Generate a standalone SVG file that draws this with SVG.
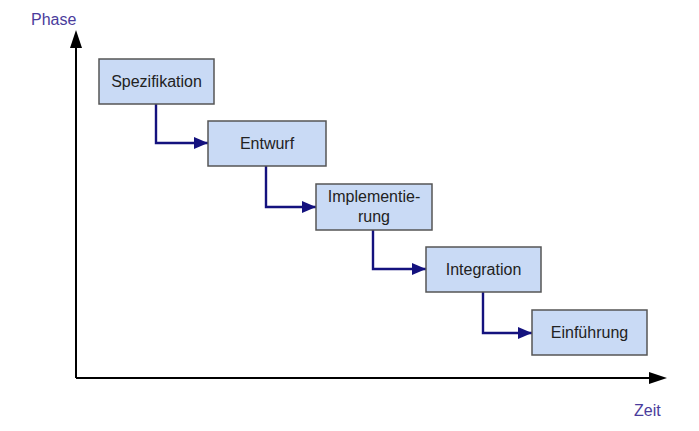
<svg xmlns="http://www.w3.org/2000/svg" width="699" height="431" viewBox="0 0 699 431">
<style>
.box{fill:#c9daf5;stroke:#555;stroke-width:1.5}
.t{font-family:"Liberation Sans",Arial,sans-serif;font-size:16px;fill:#222;text-anchor:middle}
.ax{font-family:"Liberation Sans",Arial,sans-serif;font-size:16px;fill:#4a3c9c}
.c{fill:none;stroke:#14127e;stroke-width:2.4}
</style>
<defs>
<marker id="ah" markerWidth="14" markerHeight="12" refX="14" refY="6" orient="auto" markerUnits="userSpaceOnUse">
<path d="M0,0 L14,6 L0,12 Z" fill="#14127e"/>
</marker>
</defs>
<rect width="699" height="431" fill="#fff"/>
<g id="axes">
<line x1="76" y1="378" x2="76" y2="44" stroke="#000" stroke-width="2"/>
<path d="M76,30 L70,48 L82,48 Z" fill="#000"/>
<line x1="76" y1="378" x2="652" y2="378" stroke="#000" stroke-width="2"/>
<path d="M667,378 L649,372 L649,384 Z" fill="#000"/>
<text class="ax" x="31" y="25">Phase</text>
<text class="ax" x="634" y="416">Zeit</text>
</g>
<g id="connectors">
<path class="c" d="M156,104 V143 H208" marker-end="url(#ah)"/>
<path class="c" d="M266,166 V207 H316" marker-end="url(#ah)"/>
<path class="c" d="M373,230 V269 H426" marker-end="url(#ah)"/>
<path class="c" d="M483,292 V333 H532" marker-end="url(#ah)"/>
</g>
<g id="spezifikation">
<rect class="box" x="99" y="59" width="115" height="45"/>
<text class="t" x="156.5" y="87">Spezifikation</text>
</g>
<g id="entwurf">
<rect class="box" x="208" y="121" width="118" height="45"/>
<text class="t" x="267" y="149">Entwurf</text>
</g>
<g id="implementierung">
<rect class="box" x="316" y="184" width="116" height="46"/>
<text class="t" x="374" y="202">Implementie-</text>
<text class="t" x="374" y="222">rung</text>
</g>
<g id="integration">
<rect class="box" x="426" y="247" width="115" height="45"/>
<text class="t" x="483.5" y="275">Integration</text>
</g>
<g id="einfuehrung">
<rect class="box" x="532" y="310" width="115" height="45"/>
<text class="t" x="589.5" y="338">Einführung</text>
</g>
</svg>
